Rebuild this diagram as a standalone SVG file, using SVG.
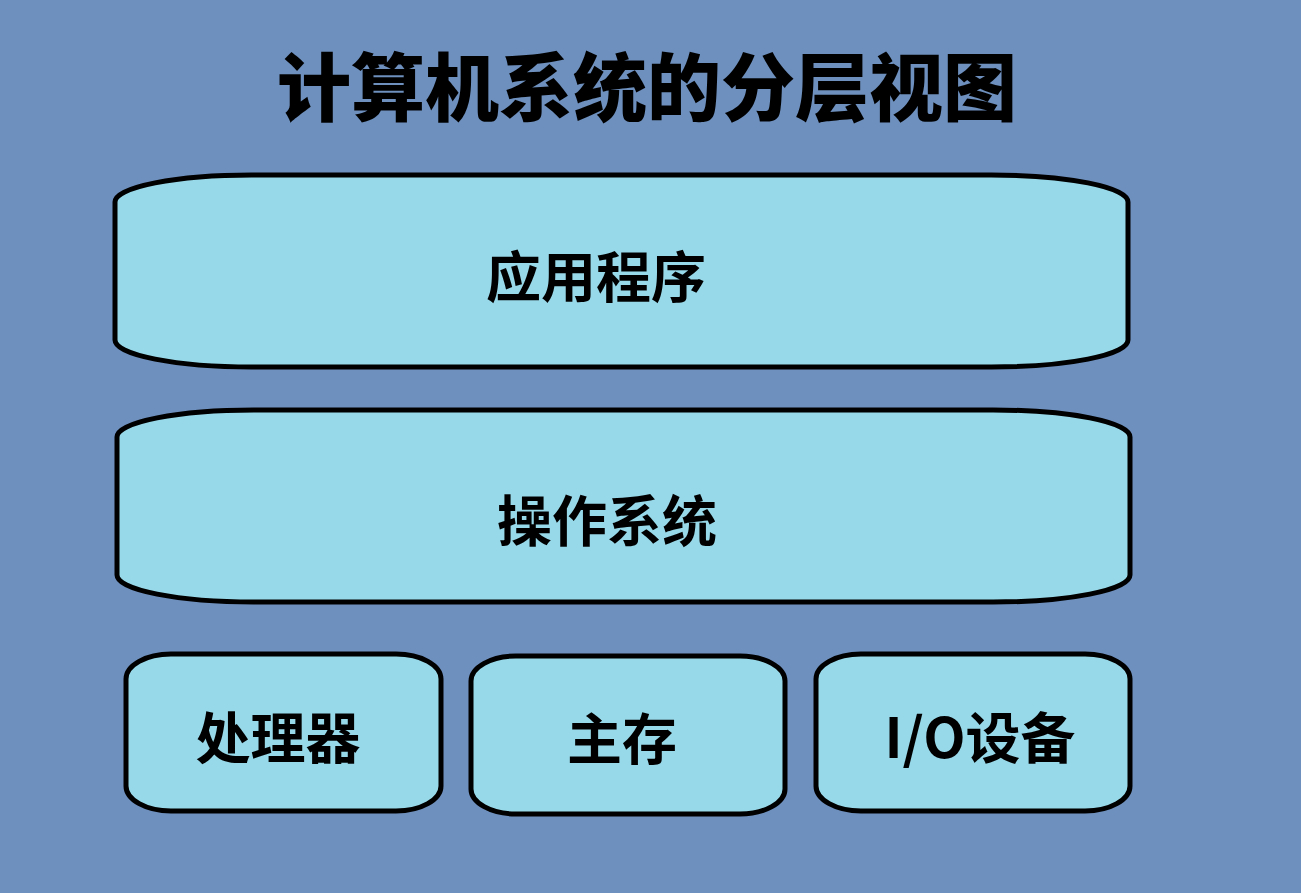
<svg xmlns="http://www.w3.org/2000/svg" width="1301" height="893" viewBox="0 0 1301 893">
<style>
.layer{fill:#98D9E9;stroke:#000;stroke-width:5}
.t{font-family:"Noto Sans CJK SC","Noto Sans",sans-serif;font-weight:900;fill:#000;text-anchor:middle}
.lbl{font-size:55px;font-weight:700}
</style>
<rect width="1301" height="893" fill="#6E90BE"/>
<text class="t" x="647" y="115" font-size="74">计算机系统的分层视图</text>
<g id="app">
<rect class="layer" x="115" y="175" width="1013" height="192" rx="137" ry="27"/>
<text class="t lbl" x="596" y="297">应用程序</text>
</g>
<g id="os">
<rect class="layer" x="117" y="410" width="1013" height="192" rx="137" ry="27"/>
<text class="t lbl" x="607" y="541">操作系统</text>
</g>
<g id="cpu">
<rect class="layer" x="126" y="654" width="315" height="157" rx="45" ry="25"/>
<text class="t lbl" x="278" y="758">处理器</text>
</g>
<g id="mem">
<rect class="layer" x="471" y="656" width="314" height="158" rx="45" ry="25"/>
<text class="t lbl" x="622" y="759">主存</text>
</g>
<g id="io">
<rect class="layer" x="816" y="654" width="314" height="157" rx="45" ry="25"/>
<text class="t lbl" x="980" y="758">I/O设备</text>
</g>
<g id="connectors"/>
</svg>
